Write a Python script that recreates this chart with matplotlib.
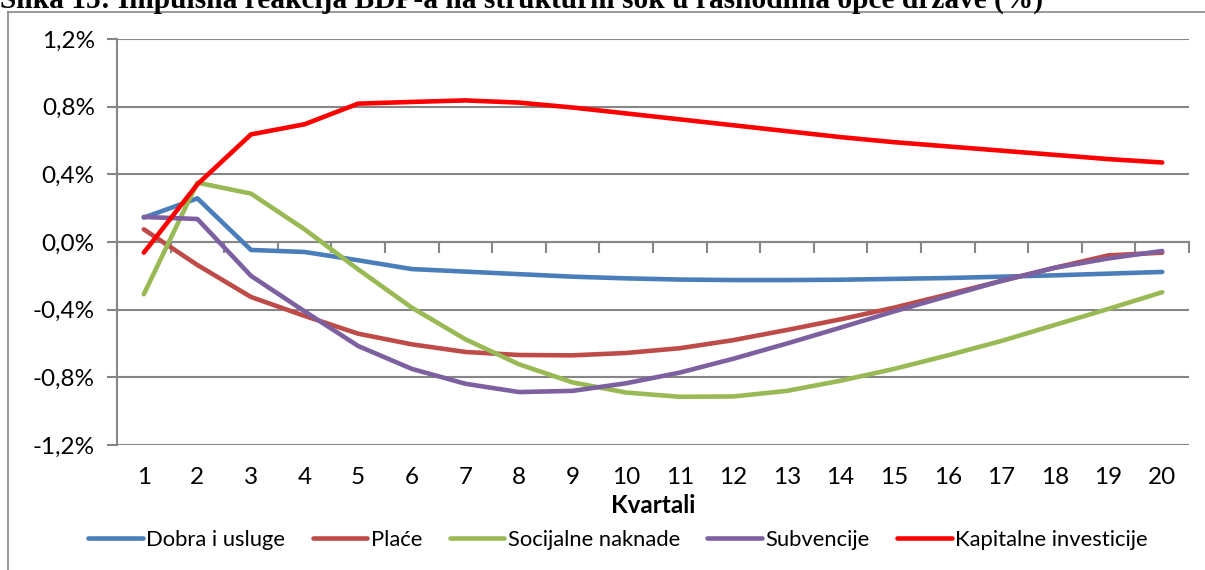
import numpy as np
import matplotlib.pyplot as plt
from matplotlib.lines import Line2D
from matplotlib.ticker import FuncFormatter, NullFormatter

# quarters after the shock
kvartali = np.arange(1, 21)

# GDP response, in %
dobra_i_usluge = [0.144, 0.258, -0.047, -0.059, -0.108, -0.160, -0.175, -0.190, -0.205, -0.215,
                  -0.222, -0.225, -0.225, -0.223, -0.218, -0.213, -0.205, -0.197, -0.187, -0.177]
place = [0.075, -0.136, -0.325, -0.437, -0.542, -0.605, -0.650, -0.668, -0.670, -0.656,
         -0.628, -0.580, -0.520, -0.457, -0.388, -0.310, -0.230, -0.152, -0.079, -0.063]
socijalne_naknade = [-0.309, 0.351, 0.286, 0.075, -0.162, -0.388, -0.575, -0.723, -0.830, -0.890,
                     -0.915, -0.913, -0.880, -0.820, -0.750, -0.670, -0.585, -0.490, -0.395, -0.297]
subvencije = [0.148, 0.136, -0.200, -0.410, -0.615, -0.750, -0.838, -0.887, -0.880, -0.835,
              -0.772, -0.690, -0.600, -0.506, -0.410, -0.320, -0.230, -0.152, -0.097, -0.053]
kapitalne_investicije = [-0.063, 0.341, 0.636, 0.696, 0.818, 0.828, 0.837, 0.824, 0.795, 0.760,
                         0.725, 0.690, 0.655, 0.620, 0.590, 0.565, 0.540, 0.515, 0.490, 0.470]

serije = ["Dobra i usluge", "Plaće", "Socijalne naknade", "Subvencije", "Kapitalne investicije"]
vrijednosti = [dobra_i_usluge, place, socijalne_naknade, subvencije, kapitalne_investicije]
boje = ["#4A7EBB", "#BE4B48", "#98B954", "#7D60A0", "#FF0000"]

naslov = "Slika 15: Impulsna reakcija BDP-a na strukturni šok u rashodima opće države (%)"

plt.rcParams['font.family'] = ['Lato', 'DejaVu Sans']
grey = "#868686"

W, H = 1205, 570
fig = plt.figure(figsize=(W / 100, H / 100), dpi=100)

# outer chart frame (right and bottom edges fall outside the picture)
fig.add_artist(Line2D([8 / W, 8 / W], [0, 1 - 12 / H], color=grey, lw=1.2))
fig.add_artist(Line2D([8 / W, 1], [1 - 12 / H, 1 - 12 / H], color=grey, lw=1.2))

# title, partly cut off at the top like in the source
fig.text(0.0, 1 - 8 / H, naslov, fontfamily='Liberation Serif', fontweight='bold',
         fontsize=21.2, va='baseline', ha='left')

ax = fig.add_axes([117 / W, 1 - 445 / H, (1189 - 117) / W, (445 - 39) / H])

for naziv, y, c in zip(serije, vrijednosti, boje):
    ax.plot(kvartali, y, color=c, lw=3.3, label=naziv, solid_capstyle='round',
            solid_joinstyle='round')

ax.set_xlim(0.5, 20.5)
ax.set_ylim(-1.2, 1.2)
ax.set_yticks(np.arange(-1.2, 1.21, 0.4))
ax.yaxis.set_major_formatter(FuncFormatter(lambda v, p: f"{v:.1f}%".replace(".", ",")))
ax.grid(axis='y', color=grey, lw=1.5)
ax.set_axisbelow(True)

for s in ['top', 'right', 'bottom']:
    ax.spines[s].set_visible(False)
ax.spines['left'].set_color(grey)
ax.spines['left'].set_linewidth(1.5)
ax.tick_params(axis='y', colors=grey, length=7, width=1.5, labelcolor='black',
               labelsize=17.5, pad=9)

# category labels at the bottom, without tick marks
ax.set_xticks(kvartali)
ax.tick_params(axis='x', length=0, labelsize=17.5, pad=16)
ax.set_xlabel("Kvartali", fontsize=17.5, fontweight='bold', labelpad=4)

# horizontal axis at zero with marks between categories
sec = ax.secondary_xaxis(0.5)
sec.set_xticks(np.arange(0.5, 20.6, 1))
sec.xaxis.set_major_formatter(NullFormatter())
sec.xaxis.set_ticks_position('bottom')
sec.tick_params(axis='x', colors=grey, length=8, width=1.5, direction='out')
for s in sec.spines.values():
    s.set_color(grey)
    s.set_linewidth(1.5)

ax.legend(loc='center', bbox_to_anchor=(618 / W, 1 - 540 / H), bbox_transform=fig.transFigure,
          ncol=5, frameon=False, fontsize=15.8, handlelength=2.5, handletextpad=0.15,
          columnspacing=1.25)

fig.savefig("out.png", dpi=100)
